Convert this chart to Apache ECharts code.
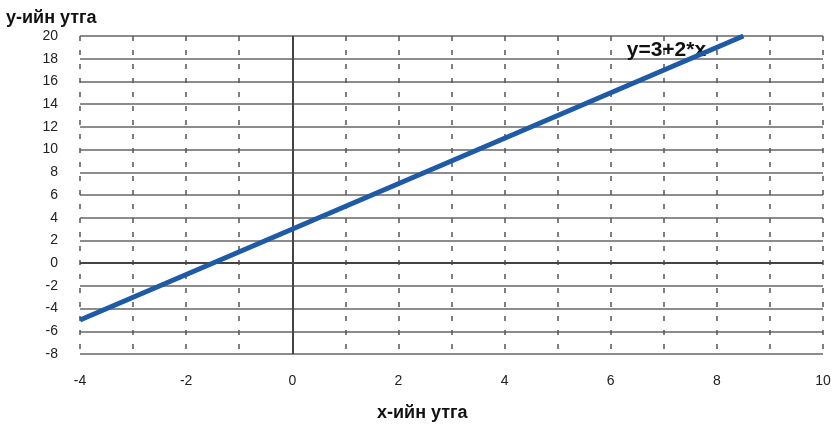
<!DOCTYPE html>
<html><head><meta charset="utf-8">
<script src="https://cdn.jsdelivr.net/npm/echarts@6/dist/echarts.min.js"></script>
<style>html,body{margin:0;padding:0;background:#fff}#c{width:835px;height:426px}</style>
</head><body><div id="c"></div>
<script>
const xValues = [-4, 8.5];
const yValues = [-5, 20];
const seriesName = 'y=3+2*x';
const xTitle = 'x-ийн утга';
const yTitle = 'y-ийн утга';
const labelPos = [7.05, 18.75];

const chart = echarts.init(document.getElementById('c'));
const font = 'Liberation Sans, Arial, sans-serif';
const titleStyle = {color: '#111', fontSize: 18, fontWeight: 'bold', fontFamily: font};
chart.setOption({
  animation: false,
  backgroundColor: '#fff',
  title: [
    {text: yTitle, left: 6, top: 9, padding: 0, textStyle: titleStyle},
    {text: xTitle, left: 377, top: 404, padding: 0, textStyle: titleStyle}
  ],
  grid: {left: 80, right: 12, top: 36, bottom: 72},
  xAxis: {
    type: 'value', min: -4, max: 10, interval: 2,
    axisLine: {show: false}, axisTick: {show: false},
    axisLabel: {color: '#222', fontSize: 14, fontFamily: font, margin: 20},
    splitLine: {show: true, lineStyle: {color: '#555', type: [5, 9], width: 1.5}},
    minorTick: {show: false, splitNumber: 2},
    minorSplitLine: {show: true, lineStyle: {color: '#555', type: [5, 9], width: 1.5}}
  },
  yAxis: {
    type: 'value', min: -8, max: 20, interval: 2,
    axisLine: {show: false}, axisTick: {show: false},
    axisLabel: {color: '#222', fontSize: 14, fontFamily: font, margin: 22},
    splitLine: {show: true, lineStyle: {color: '#666', width: 1.5}}
  },
  series: [{
    type: 'line', name: seriesName,
    data: xValues.map((x, i) => [x, yValues[i]]),
    showSymbol: false, symbol: 'none',
    lineStyle: {color: '#1f5aa6', width: 5},
    markLine: {
      silent: true, symbol: 'none', label: {show: false},
      lineStyle: {color: '#444', width: 2, type: 'solid'},
      data: [{xAxis: 0}, {yAxis: 0}]
    },
    markPoint: {
      silent: true, symbol: 'circle', symbolSize: 0,
      data: [{coord: labelPos, label: {show: true, formatter: seriesName, color: '#111', fontSize: 21, fontWeight: 'bold', fontFamily: font}}]
    },
    z: 5
  }]
});
</script></body></html>
